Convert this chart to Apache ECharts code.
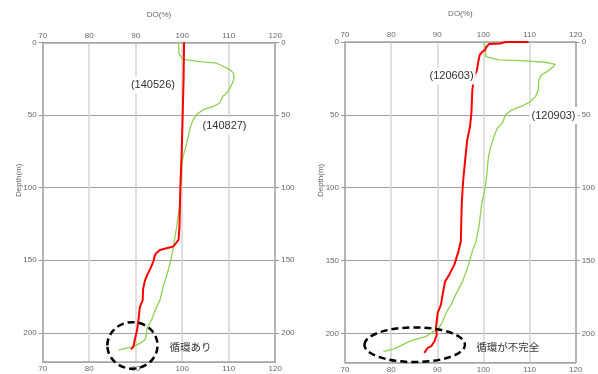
<!DOCTYPE html>
<html><head><meta charset="utf-8">
<script src="https://cdn.jsdelivr.net/npm/echarts@6/dist/echarts.min.js"></script>
<style>html,body{margin:0;padding:0;background:#fff}#c{width:598px;height:374px}</style>
</head><body><div id="c"></div>
<script>
// ---- data ----
const xTicks = [70, 80, 90, 100, 110, 120];
const yTicks = [0, 50, 100, 150, 200];

const s140526Depth = [0, 25, 50, 75, 100, 115, 128, 136, 140.6, 143, 145.2, 147, 151, 155.5, 160, 164, 169.6, 177.7, 182, 191, 198, 205, 209.7, 211.5];
const s140526DO    = [100.4, 100.3, 100.1, 99.9, 99.6, 99.5, 99.4, 99.2, 98.1, 95.2, 94.4, 94.1, 93.8, 93.2, 92.5, 92.0, 91.6, 91.5, 90.9, 90.6, 90.3, 89.8, 89.5, 89.0];

const s140827Depth = [0, 7.5, 11, 12, 13.3, 14.4, 17.8, 19, 21.2, 24.7, 28, 32.4, 34.9, 37.3, 41.8, 44.1, 46.4, 49.8, 53.2, 57.8, 64.7, 71.5, 78.4, 85.2, 99, 113, 127.4, 138.8, 148, 157, 168.5, 177.7, 184.5, 191.4, 195.9, 202.7, 205, 207.3, 209.6, 210.8, 211.9];
const s140827DO    = [99.2, 99.3, 99.9, 100.6, 103.8, 107.4, 109.6, 110.3, 111.0, 111.2, 110.8, 110.1, 109.6, 108.7, 108.1, 106.7, 104.5, 103.1, 102.4, 101.8, 101.3, 100.8, 100.2, 99.9, 99.7, 99.4, 98.8, 98.2, 97.7, 97.0, 95.9, 95.2, 94.2, 93.4, 92.5, 92.2, 92.0, 90.9, 89.5, 87.7, 86.3];

const s120603Depth = [0, 0, 1, 1.4, 3.2, 5.5, 6.6, 8.9, 13.5, 19.2, 23.8, 32.9, 48.9, 58, 67.2, 76.3, 92.3, 100.3, 111.7, 136.9, 143.7, 152.8, 159.7, 164.3, 171.1, 180.3, 186, 196.3, 200.8, 205.4, 208.8, 210, 213.4];
const s120603DO    = [109.8, 104.8, 103.6, 101.2, 100.7, 100.3, 99.8, 99.2, 98.9, 98.6, 98.0, 97.6, 97.4, 97.1, 96.5, 96.2, 95.7, 95.5, 95.3, 95.1, 94.6, 93.7, 92.6, 91.7, 91.3, 90.8, 90.1, 89.7, 89.9, 89.4, 88.7, 87.9, 87.2];

const s120903Depth = [0, 5.5, 10, 11.2, 12.3, 13, 13.9, 15.3, 16.9, 20.3, 22.6, 26, 32.9, 37.5, 40.9, 43.9, 46.6, 50, 55.7, 59.2, 64.9, 71.8, 78.6, 92.3, 100, 111.7, 125.4, 136.9, 143.7, 152.8, 164.3, 173.4, 180.3, 186, 191.7, 196.2, 198.5, 202, 204.3, 206.5, 210, 211.8, 212.3];
const s120903DO    = [100.1, 100.5, 100.5, 100.8, 103.4, 109.1, 113.4, 115.6, 115.2, 113.8, 112.6, 112.0, 111.9, 111.3, 110.2, 108.4, 106.2, 104.8, 104.1, 103.0, 102.3, 101.6, 101.1, 100.7, 100.4, 99.6, 99.1, 98.4, 97.6, 96.8, 95.5, 94.0, 93.0, 91.9, 91.2, 90.4, 89.4, 87.6, 85.1, 83.3, 81.1, 79.3, 78.3];

const seriesNames = ['(140526)', '(140827)', '(120603)', '(120903)'];
const notes = ['循環あり', '循環が不完全'];
const xName = 'DO(%)';
const yName = 'Depth(m)';

// ---- chart ----
const zip = (a, b) => a.map((v, i) => [v, b[i]]);
const chart = echarts.init(document.getElementById('c'));
const lblStyle = {fontFamily: 'Liberation Sans', fontSize: 8, color: '#666'};
const axisLineStyle = {color: '#a6a6a6', width: 1.5};

function xAxes(gi) {
  return [
    {gridIndex: gi, type: 'value', position: 'top', min: xTicks[0], max: xTicks[xTicks.length-1], interval: 10,
     name: xName, nameLocation: 'middle', nameGap: 24, nameTextStyle: {fontFamily: 'Liberation Sans', fontSize: 8, color: '#666'},
     axisLine: {show: true, onZero: false, lineStyle: axisLineStyle}, axisTick: {show: false},
     axisLabel: Object.assign({margin: 3}, lblStyle),
     splitLine: {show: true, lineStyle: {color: '#d4d4d4', width: 1.5}}},
    {gridIndex: gi, type: 'value', position: 'bottom', min: xTicks[0], max: xTicks[xTicks.length-1], interval: 10,
     axisLine: {show: true, onZero: false, lineStyle: axisLineStyle}, axisTick: {show: false},
     axisLabel: Object.assign({margin: 3}, lblStyle), splitLine: {show: false}}
  ];
}
function yAxes(gi) {
  return [
    {gridIndex: gi, type: 'value', position: 'left', inverse: true, min: 0, max: 220, interval: 50,
     axisLine: {show: true, onZero: false, lineStyle: axisLineStyle},
     axisTick: {show: true, length: 4, lineStyle: {color: '#999'}},
     axisLabel: Object.assign({margin: 6, showMaxLabel: false}, lblStyle),
     splitLine: {show: true, lineStyle: {color: '#a0a0a0', width: 1}}},
    {gridIndex: gi, type: 'value', position: 'right', inverse: true, min: 0, max: 220, interval: 50,
     axisLine: {show: true, onZero: false, lineStyle: axisLineStyle},
     axisTick: {show: true, length: 4, lineStyle: {color: '#999'}},
     axisLabel: Object.assign({margin: 6, showMaxLabel: false}, lblStyle),
     splitLine: {show: false}}
  ];
}
function line(name, d, depth, gi, color, w, z) {
  return {name, type: 'line', xAxisIndex: gi*2, yAxisIndex: gi*2, data: zip(d, depth),
          showSymbol: false, symbol: 'none', lineStyle: {color, width: w}, z, animation: false};
}

chart.setOption({
  animation: false,
  grid: [
    {left: 42.7, top: 42.3, width: 232.5, height: 319.5},
    {left: 345, top: 42, width: 232.5, height: 320.5}
  ],
  xAxis: [...xAxes(0), ...xAxes(1)],
  yAxis: [...yAxes(0), ...yAxes(1)],
  series: [
    line(seriesNames[1], s140827DO, s140827Depth, 0, '#92d050', 1.3, 2),
    line(seriesNames[0], s140526DO, s140526Depth, 0, '#ff0000', 2, 3),
    line(seriesNames[3], s120903DO, s120903Depth, 1, '#92d050', 1.3, 2),
    line(seriesNames[2], s120603DO, s120603Depth, 1, '#ff0000', 2, 3)
  ]
});

// annotations anchored in data coordinates
const annText = [
  {si: 1, text: seriesNames[0], at: [93.7, 29.6]},
  {si: 1, text: seriesNames[1], at: [109.1, 57.6]},
  {si: 3, text: seriesNames[2], at: [93.1, 23.3]},
  {si: 3, text: seriesNames[3], at: [115.2, 50.5]}
];
const annNotes = [
  {si: 1, text: notes[0], at: [101.8, 209.8]},
  {si: 3, text: notes[1], at: [105.3, 209.4]}
];
const annEllipses = [
  {si: 1, at: [89.3, 208.7], r: [5.4, 16]},
  {si: 3, at: [85.1, 207.8], r: [10.9, 11.9]}
];
const yNameAt = [{si: 1, at: [70, 95]}, {si: 3, at: [70, 95]}];

const px = (si, p) => chart.convertToPixel({seriesIndex: si}, p);
const g = [];
annText.forEach(a => {
  const p = px(a.si, a.at);
  g.push({type: 'text', x: p[0], y: p[1], z: 10,
    style: {text: a.text, fontFamily: 'Liberation Sans', fontSize: 11, fill: '#333',
            align: 'center', verticalAlign: 'middle', backgroundColor: '#fff', padding: [3, 2]}});
});
annNotes.forEach(a => {
  const p = px(a.si, a.at);
  g.push({type: 'text', x: p[0], y: p[1], z: 10,
    style: {text: a.text, fontFamily: 'Noto Sans CJK JP', fontSize: 10.5, fill: '#333',
            align: 'center', verticalAlign: 'middle'}});
});
annEllipses.forEach(a => {
  const c = px(a.si, a.at);
  const e = px(a.si, [a.at[0] + a.r[0], a.at[1] + a.r[1]]);
  g.push({type: 'ellipse', z: 10, shape: {cx: c[0], cy: c[1], rx: Math.abs(e[0]-c[0]), ry: Math.abs(e[1]-c[1])},
    style: {fill: null, stroke: '#000', lineWidth: 2.5, lineDash: [7, 4]}});
});
yNameAt.forEach(a => {
  const p = px(a.si, a.at);
  g.push({type: 'text', x: p[0] - 24, y: p[1], rotation: Math.PI / 2, z: 10,
    style: {text: yName, fontFamily: 'Liberation Sans', fontSize: 8, fill: '#666',
            align: 'center', verticalAlign: 'middle'}});
});
chart.setOption({graphic: g});
</script>
</body></html>
